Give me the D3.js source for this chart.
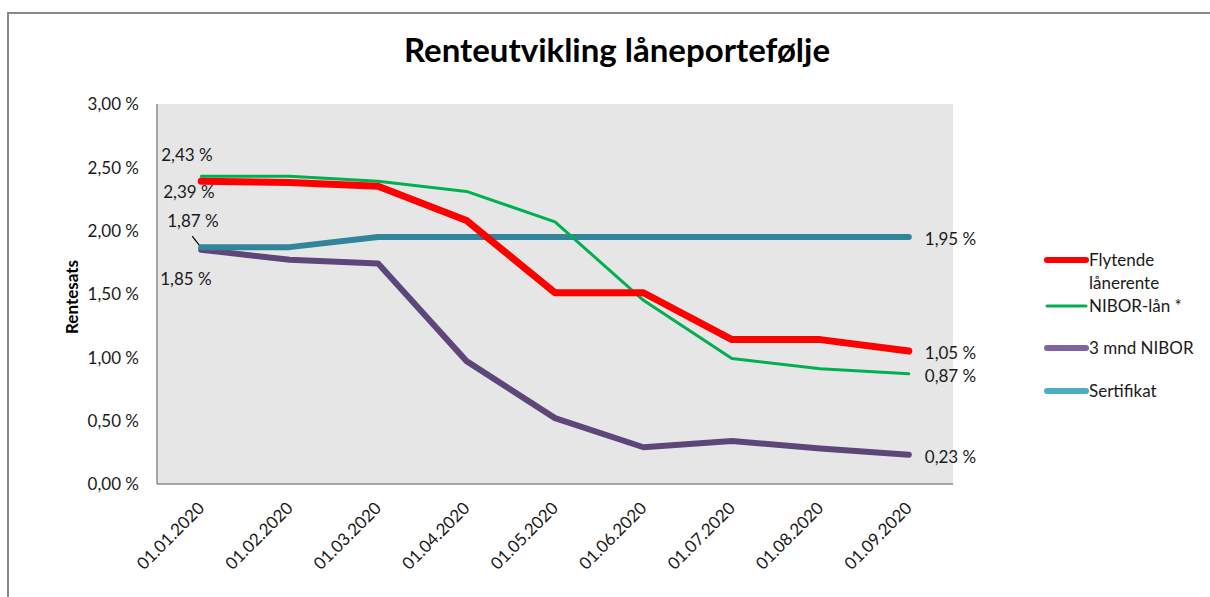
<!DOCTYPE html>
<html><head><meta charset="utf-8">
<script src="https://cdn.jsdelivr.net/npm/d3@7"></script>
<style>
body{margin:0;background:#fff;}
text{font-family:Lato,"Open Sans",sans-serif;fill:#1a1a1a;}
</style></head>
<body>
<svg id="c" width="1210" height="597"></svg>
<script>
const categories = ["01.01.2020","01.02.2020","01.03.2020","01.04.2020","01.05.2020","01.06.2020","01.07.2020","01.08.2020","01.09.2020"];
const flytende = [2.39,2.38,2.35,2.08,1.51,1.51,1.14,1.14,1.05];
const niborLaan = [2.43,2.43,2.39,2.31,2.07,1.45,0.99,0.91,0.87];
const nibor3m = [1.85,1.77,1.74,0.97,0.52,0.29,0.34,0.28,0.23];
const sertifikat = [1.87,1.87,1.95,1.95,1.95,1.95,1.95,1.95,1.95];
const yTicks = [0,0.5,1,1.5,2,2.5,3];
const seriesNames = ["Flytende lånerente","NIBOR-lån *","3 mnd NIBOR","Sertifikat"];

const svg = d3.select("#c");
const m = {l:157, r:953, t:104, b:484};
const x = d3.scaleBand().domain(categories).range([m.l,m.r]);
const y = d3.scaleLinear().domain([0,3]).range([m.b,m.t]);
const fmt = v => d3.format(".2f")(v).replace(".",",")+" %";
const FS = "17px";

// outer border
svg.append("line").attr("x1",7).attr("x2",1210).attr("y1",13).attr("y2",13).attr("stroke","#888").attr("stroke-width",2);
svg.append("line").attr("x1",8).attr("x2",8).attr("y1",13).attr("y2",597).attr("stroke","#888").attr("stroke-width",2);

// title
svg.append("text").attr("x",617).attr("y",62).attr("text-anchor","middle")
  .style("font-size","33px").style("font-weight","bold").style("fill","#000").text("Renteutvikling låneportefølje");

// plot bg
svg.append("rect").attr("x",m.l).attr("y",m.t).attr("width",m.r-m.l).attr("height",m.b-m.t).attr("fill","#e6e6e6");
svg.append("line").attr("x1",m.l).attr("x2",m.l).attr("y1",m.t).attr("y2",m.b).attr("stroke","#8c8c8c").attr("stroke-width",1.5);
svg.append("line").attr("x1",m.l).attr("x2",m.r).attr("y1",m.b).attr("y2",m.b).attr("stroke","#8c8c8c").attr("stroke-width",1.5);

// y axis
const ya = svg.append("g").attr("transform",`translate(${m.l-18},0)`)
  .call(d3.axisLeft(y).tickValues(yTicks).tickFormat(fmt).tickSize(0));
ya.select(".domain").remove();
ya.selectAll("text").style("font-size",FS).attr("x",0).attr("dy","0.35em");

svg.append("text").attr("transform","translate(78,297) rotate(-90)").attr("text-anchor","middle")
  .style("font-size","17px").style("font-weight","bold").style("fill","#000").text("Rentesats");

// x axis
const xa = svg.append("g").attr("transform",`translate(0,${m.b})`)
  .call(d3.axisBottom(x).tickSize(0));
xa.select(".domain").remove();
xa.selectAll("text").style("font-size",FS).attr("text-anchor","end")
  .attr("transform","translate(0,21) rotate(-45)").attr("dy","0.35em").attr("y",0).attr("x",0);

const line = d3.line().x((d,i)=>x(categories[i])+x.bandwidth()/2).y(d=>y(d));
const specs = [
  {data:flytende, color:"#ff0000", legend:"#ff0000", w:7},
  {data:niborLaan, color:"#00b050", legend:"#00b050", w:3},
  {data:nibor3m, color:"#5d4679", legend:"#8064a2", w:6},
  {data:sertifikat, color:"#31849b", legend:"#4bacc6", w:6}
];
[2,3,1,0].forEach(k=>{
  const s=specs[k];
  svg.append("path").datum(s.data).attr("d",line).attr("fill","none")
    .attr("stroke",s.color).attr("stroke-width",s.w).attr("stroke-linejoin","round").attr("stroke-linecap","round");
});

// data labels
const px = i => x(categories[i])+x.bandwidth()/2;
const lab = (t,xx,yy,anchor)=>svg.append("text").attr("x",xx).attr("y",yy).attr("text-anchor",anchor||"start")
  .attr("dy","0.35em").style("font-size",FS).text(t);
lab(fmt(niborLaan[0]), px(0)-40, y(niborLaan[0])-21);
lab(fmt(flytende[0]), px(0)-38, y(flytende[0])+11);
lab(fmt(sertifikat[0]), px(0)-34, y(sertifikat[0])-26);
lab(fmt(nibor3m[0]), px(0)-41, y(nibor3m[0])+29);
svg.append("line").attr("x1",px(0)-9).attr("y1",y(sertifikat[0])-11).attr("x2",px(0)-2).attr("y2",y(sertifikat[0])-2)
  .attr("stroke","#000").attr("stroke-width",1.2);
const last = categories.length-1;
lab(fmt(sertifikat[last]), px(last)+16, y(sertifikat[last])+2);
lab(fmt(flytende[last]), px(last)+16, y(flytende[last])+2);
lab(fmt(niborLaan[last]), px(last)+16, y(niborLaan[last])+2);
lab(fmt(nibor3m[last]), px(last)+16, y(nibor3m[last])+2);

// legend
const lg = svg.append("g");
const legY = [260,306,348,391];
specs.forEach((s,i)=>{
  lg.append("line").attr("x1",1047).attr("x2",1086).attr("y1",legY[i]).attr("y2",legY[i])
    .attr("stroke",s.legend).attr("stroke-width",s.w===3?3:6).attr("stroke-linecap","round");
});
const lt = (t,yy)=>lg.append("text").attr("x",1089).attr("y",yy).attr("dy","0.35em").style("font-size",FS).text(t);
lt("Flytende",260); lt("lånerente",283);
lt(seriesNames[1],306); lt(seriesNames[2],348); lt(seriesNames[3],391);
</script>
</body></html>
